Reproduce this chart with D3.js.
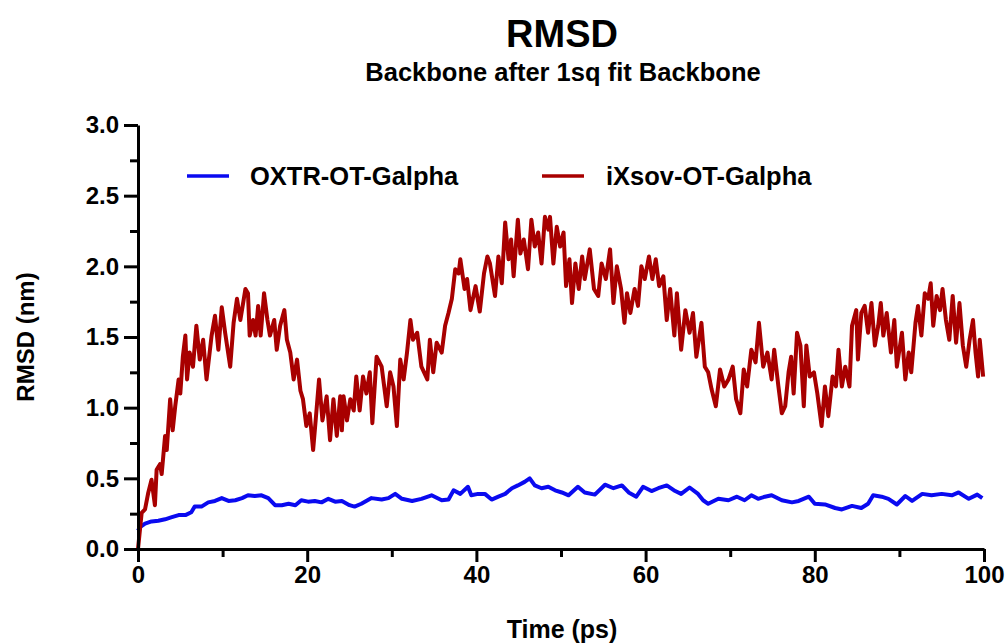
<!DOCTYPE html>
<html>
<head>
<meta charset="utf-8">
<script src="https://cdn.jsdelivr.net/npm/d3@7"></script>
<style>
  html, body { margin: 0; padding: 0; background: #fff; }
  svg { display: block; font-family: "Liberation Sans", Arial, sans-serif; }
</style>
</head>
<body>
<svg id="chart" width="1008" height="644"></svg>
<script>
// ---- Data ----
const seriesNames = ["OXTR-OT-Galpha", "iXsov-OT-Galpha"];
const yTickValues = [0, 0.5, 1.0, 1.5, 2.0, 2.5, 3.0];
const yMinorTicks = [0.25, 0.75, 1.25, 1.75, 2.25, 2.75];
const xTickValues = [0, 20, 40, 60, 80, 100];
const xMinorTicks = [10, 30, 50, 70, 90];

const blueTime = [0,0.24,0.83,1.6,2.4,3.2,4.0,4.8,5.6,6.3,6.7,7.5,8.3,9.1,9.9,10.7,11.5,12.3,13.0,13.8,14.6,15.4,16.2,17.0,17.8,18.6,19.3,20.1,20.9,21.7,22.5,23.3,24.1,25.0,25.6,26.4,27.6,28.8,29.6,30.4,31.2,32.4,33.5,34.7,35.9,36.7,37.3,38.1,39.0,39.4,40.2,41.0,41.8,42.6,43.4,44.2,44.9,45.7,46.3,46.9,47.7,48.5,49.3,50.1,50.9,52.0,52.8,54.0,55.2,56.2,57.2,58.0,58.9,59.7,60.7,61.5,62.5,63.5,64.2,65.2,66.2,66.8,67.4,68.6,69.8,70.8,71.7,72.5,73.3,74.1,74.9,76.1,77.3,78.1,79.3,80.0,81.2,82.4,83.2,84.4,85.5,86.3,86.9,87.9,88.7,89.7,90.7,91.5,92.7,93.8,95.0,96.2,97.0,98.2,99.2,99.8];
const blueRMSD = [0.13,0.155,0.18,0.195,0.2,0.21,0.225,0.24,0.24,0.26,0.30,0.30,0.33,0.34,0.36,0.34,0.345,0.36,0.38,0.375,0.38,0.36,0.31,0.31,0.32,0.31,0.345,0.335,0.34,0.33,0.355,0.335,0.34,0.31,0.30,0.32,0.36,0.35,0.36,0.39,0.355,0.34,0.355,0.38,0.345,0.35,0.415,0.39,0.44,0.38,0.39,0.39,0.35,0.37,0.39,0.43,0.45,0.475,0.50,0.45,0.43,0.44,0.415,0.40,0.38,0.44,0.40,0.385,0.455,0.43,0.45,0.40,0.37,0.44,0.41,0.43,0.45,0.41,0.39,0.435,0.39,0.345,0.32,0.355,0.345,0.37,0.345,0.38,0.355,0.37,0.38,0.345,0.33,0.34,0.37,0.32,0.315,0.29,0.28,0.305,0.29,0.32,0.38,0.37,0.355,0.315,0.375,0.34,0.39,0.38,0.39,0.38,0.40,0.355,0.385,0.36];

const redTime = [0,0.43,0.83,1.22,1.6,2.0,2.2,2.6,2.8,3.2,3.4,3.8,4.1,4.4,4.8,5.0,5.3,5.6,5.8,6.1,6.5,6.9,7.3,7.7,8.1,8.7,9.1,9.5,9.9,10.3,10.9,11.3,11.7,12.1,12.7,13.0,13.2,13.6,13.9,14.2,14.5,14.9,15.3,15.6,16.1,16.4,16.8,17.3,17.6,18.0,18.4,18.8,19.2,19.5,19.9,20.3,20.7,21.0,21.4,21.8,22.3,22.7,23.1,23.5,23.9,24.1,24.3,24.7,25.1,25.5,25.8,26.2,26.6,27.0,27.4,27.7,28.2,28.8,29.4,29.8,30.2,30.6,31.0,31.4,31.8,32.2,32.5,33.0,33.5,34.2,34.5,34.9,35.3,35.9,36.3,36.7,37.1,37.5,37.9,38.1,38.6,38.9,39.3,39.9,40.4,40.9,41.3,41.6,42.2,42.6,43.0,43.4,43.8,44.1,44.4,44.9,45.2,45.6,46.1,46.5,46.9,47.3,47.7,48.1,48.5,48.7,49.1,49.5,49.9,50.3,50.6,51.0,51.3,51.7,52.1,52.5,52.8,53.4,53.9,54.4,54.8,55.3,55.8,56.2,56.6,57.1,57.5,57.8,58.2,58.7,59.1,59.5,59.9,60.4,60.8,61.2,61.6,62.1,62.5,62.9,63.4,63.7,64.2,64.7,65.2,65.6,66.0,66.6,67.0,67.4,67.8,68.3,68.8,69.3,69.8,70.3,70.7,71.2,71.6,72.0,72.5,73.0,73.4,73.9,74.4,74.9,75.2,75.7,76.1,76.5,76.9,77.2,77.5,77.9,78.3,78.7,79.0,79.4,79.9,80.3,80.8,81.2,81.6,82.1,82.5,82.8,83.2,83.6,84.1,84.4,84.9,85.1,85.5,85.9,86.3,86.7,87.1,87.5,87.8,88.1,88.5,89.0,89.4,89.7,90.3,90.7,91.1,91.4,91.9,92.2,92.6,93.0,93.4,93.7,94.0,94.4,94.8,95.1,95.5,95.9,96.3,96.7,97.1,97.5,97.9,98.3,98.7,99.0,99.3,99.5,99.9];
const redRMSD = [0.0,0.255,0.28,0.40,0.49,0.31,0.56,0.60,0.53,0.80,0.70,1.06,0.84,1.01,1.20,1.10,1.36,1.51,1.20,1.39,1.29,1.58,1.34,1.48,1.20,1.51,1.65,1.41,1.71,1.53,1.29,1.60,1.77,1.62,1.84,1.81,1.51,1.62,1.51,1.72,1.51,1.81,1.62,1.51,1.62,1.41,1.58,1.69,1.48,1.39,1.20,1.34,1.12,1.06,0.87,0.96,0.70,0.91,1.20,0.91,1.08,0.77,1.06,0.80,1.08,0.84,1.08,0.91,1.06,0.98,1.22,0.98,1.22,1.10,1.25,0.89,1.36,1.29,1.01,1.25,1.15,0.87,1.34,1.20,1.39,1.62,1.48,1.53,1.29,1.20,1.48,1.25,1.46,1.39,1.58,1.67,1.77,1.98,1.95,2.05,1.84,1.91,1.69,1.86,1.68,1.95,2.07,2.02,1.79,2.07,1.88,2.31,2.05,2.19,1.93,2.33,2.09,2.19,1.98,2.33,2.14,2.24,2.02,2.35,2.26,2.35,2.02,2.28,2.14,2.24,1.86,2.05,1.74,2.02,1.84,2.07,1.91,2.12,1.84,1.79,2.02,1.91,2.12,1.74,2.00,1.84,1.60,1.81,1.67,1.84,1.72,2.00,1.91,2.07,1.91,2.05,1.86,1.93,1.62,1.84,1.51,1.81,1.41,1.69,1.53,1.67,1.36,1.60,1.29,1.25,1.13,1.01,1.27,1.15,1.20,1.29,1.06,0.96,1.27,1.15,1.41,1.32,1.60,1.29,1.39,1.20,1.41,1.15,0.96,1.01,1.25,1.36,1.10,1.53,1.44,1.01,1.44,1.22,1.25,1.10,0.87,1.15,0.94,1.22,1.15,1.41,1.15,1.29,1.15,1.58,1.69,1.34,1.67,1.72,1.53,1.74,1.44,1.58,1.74,1.51,1.67,1.39,1.62,1.29,1.53,1.20,1.39,1.25,1.60,1.72,1.51,1.81,1.77,1.88,1.58,1.79,1.69,1.84,1.62,1.48,1.79,1.46,1.74,1.44,1.29,1.48,1.62,1.39,1.22,1.48,1.22];

const seriesColors = ["#0a0af0", "#a80000"];

// ---- Chart ----
const svg = d3.select("#chart");
const x = d3.scaleLinear().domain([0, 100]).range([138, 984]);
const y = d3.scaleLinear().domain([0, 3]).range([549, 125]);

// Title
svg.append("text").attr("x", 562).attr("y", 47).attr("text-anchor", "middle")
  .attr("font-size", 38).attr("font-weight", "bold").text("RMSD");
svg.append("text").attr("x", 563).attr("y", 81).attr("text-anchor", "middle")
  .attr("font-size", 25.5).attr("font-weight", "bold").text("Backbone after 1sq fit Backbone");

// Lines
const line = d3.line().x(d => x(d[0])).y(d => y(d[1]));
const blueData = blueTime.map((t, i) => [t, blueRMSD[i]]);
const redData = redTime.map((t, i) => [t, redRMSD[i]]);
svg.append("path").datum(blueData).attr("d", line).attr("fill", "none")
  .attr("stroke", seriesColors[0]).attr("stroke-width", 4).attr("stroke-linejoin", "round");
svg.append("path").datum(redData).attr("d", line).attr("fill", "none")
  .attr("stroke", seriesColors[1]).attr("stroke-width", 4).attr("stroke-linejoin", "round");

// Axes
function styleAxis(g) {
  g.selectAll("path, line").attr("stroke", "#000").attr("stroke-width", 3);
  g.selectAll("text").attr("font-size", 24).attr("font-weight", "bold").attr("fill", "#000")
    .attr("font-family", "'Liberation Sans', Arial, sans-serif");
}
const yAxis = svg.append("g").attr("transform", "translate(138,0)")
  .call(d3.axisLeft(y).tickValues(yTickValues).tickFormat(d3.format(".1f")).tickSize(14).tickSizeOuter(0).tickPadding(5));
styleAxis(yAxis);
const yMinor = svg.append("g").attr("transform", "translate(138,0)")
  .call(d3.axisLeft(y).tickValues(yMinorTicks).tickFormat("").tickSize(8).tickSizeOuter(0));
yMinor.select(".domain").remove();
styleAxis(yMinor);

const xAxis = svg.append("g").attr("transform", "translate(0,549)")
  .call(d3.axisBottom(x).tickValues(xTickValues).tickFormat(d3.format("d")).tickSize(13).tickSizeOuter(0).tickPadding(4));
styleAxis(xAxis);
const xMinor = svg.append("g").attr("transform", "translate(0,549)")
  .call(d3.axisBottom(x).tickValues(xMinorTicks).tickFormat("").tickSize(8).tickSizeOuter(0));
xMinor.select(".domain").remove();
styleAxis(xMinor);

// Axis titles
svg.append("text").attr("x", 562).attr("y", 638).attr("text-anchor", "middle")
  .attr("font-size", 25).attr("font-weight", "bold").text("Time (ps)");
svg.append("text").attr("transform", "translate(34,337) rotate(-90)").attr("text-anchor", "middle")
  .attr("font-size", 24).attr("font-weight", "bold").text("RMSD (nm)");

// Legend
const legendLineX = [187, 542];
const legendTextX = [250, 606];
seriesNames.forEach((name, i) => {
  svg.append("line").attr("x1", legendLineX[i]).attr("x2", legendLineX[i] + 42)
    .attr("y1", 176).attr("y2", 176).attr("stroke", seriesColors[i]).attr("stroke-width", 3.5);
  svg.append("text").attr("x", legendTextX[i]).attr("y", 185)
    .attr("font-size", 25.5).attr("font-weight", "bold").text(name);
});
</script>
</body>
</html>
